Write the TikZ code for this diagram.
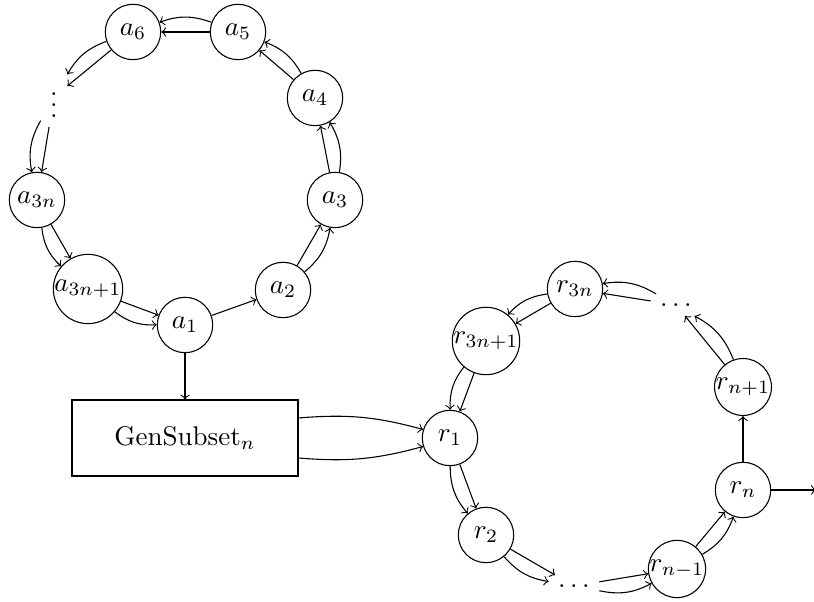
\documentclass[tikz,border=0pt]{standalone}
\begin{document}
\begin{tikzpicture}[x=0.37pt,y=0.37pt,>=to,
  st/.style={circle,draw,minimum size=20.5pt,inner sep=0pt},
  br/.style={->,bend right=20}]
\useasboundingbox (0,0) rectangle (814,602);
% a ring
\node[st] (a1) at (185,277) {$a_1$};
\node[st] (a2) at (283,312) {$a_2$};
\node[st] (a3) at (335,402) {$a_3$};
\node[st] (a4) at (315,504) {$a_4$};
\node[st] (a5) at (238,570) {$a_5$};
\node[st] (a6) at (133,570) {$a_6$};
\node (vd) at (54,505) {$\vdots$};
\node[st] (a3n) at (37,402) {$a_{3n}$};
\node[st] (a3n1) at (88,313) {$a_{3n+1}$};
% box
\node[draw,minimum width=83.6pt,minimum height=28.1pt] (gs) at (185,164) {$\mathrm{GenSubset}_n$};
% r ring
\node[st] (r1) at (450,164) {$r_1$};
\node[st] (r2) at (486,67) {$r_2$};
\node (db) at (574,16) {$\ldots$};
\node[st] (rnm) at (677,33) {$r_{n-1}$};
\node[st] (rn) at (743,112) {$r_n$};
\node[st] (rnp) at (743,215) {$r_{n+1}$};
\node (dt) at (676,297) {$\ldots$};
\node[st] (r3n) at (575,313) {$r_{3n}$};
\node[st] (r3n1) at (486,261) {$r_{3n+1}$};
\coordinate (out) at (816,112);
% a edges
\draw[->] (a1) -- (a2);
\draw[->] (a2) -- (a3); \draw[br] (a2) to (a3);
\draw[->] (a3) -- (a4); \draw[br] (a3) to (a4);
\draw[->] (a4) -- (a5); \draw[br] (a4) to (a5);
\draw[->] (a5) -- (a6); \draw[br] (a5) to (a6);
\draw[->] (a6) -- (vd); \draw[br] (a6) to (vd);
\draw[->] (vd) -- (a3n); \draw[br] (vd) to (a3n);
\draw[->] (a3n) -- (a3n1); \draw[br] (a3n) to (a3n1);
\draw[->] (a3n1) -- (a1); \draw[br] (a3n1) to (a1);
\draw[->] (a1) -- (gs);
\draw[->] ([yshift=7.4pt]gs.east) to[bend left=10] (r1);
\draw[->] ([yshift=-7.4pt]gs.east) to[bend right=10] (r1);
% r edges
\draw[->] (r1) -- (r2); \draw[br] (r1) to (r2);
\draw[->] (r2) -- (db); \draw[br] (r2) to (db);
\draw[->] (db) -- (rnm); \draw[br] (db) to (rnm);
\draw[->] (rnm) -- (rn); \draw[br] (rnm) to (rn);
\draw[->] (rn) -- (rnp);
\draw[->] (rnp) -- (dt); \draw[br] (rnp) to (dt);
\draw[->] (dt) -- (r3n); \draw[br] (dt) to (r3n);
\draw[->] (r3n) -- (r3n1); \draw[br] (r3n) to (r3n1);
\draw[->] (r3n1) -- (r1); \draw[br] (r3n1) to (r1);
\draw[->] (rn) -- (out);
\end{tikzpicture}
\end{document}
